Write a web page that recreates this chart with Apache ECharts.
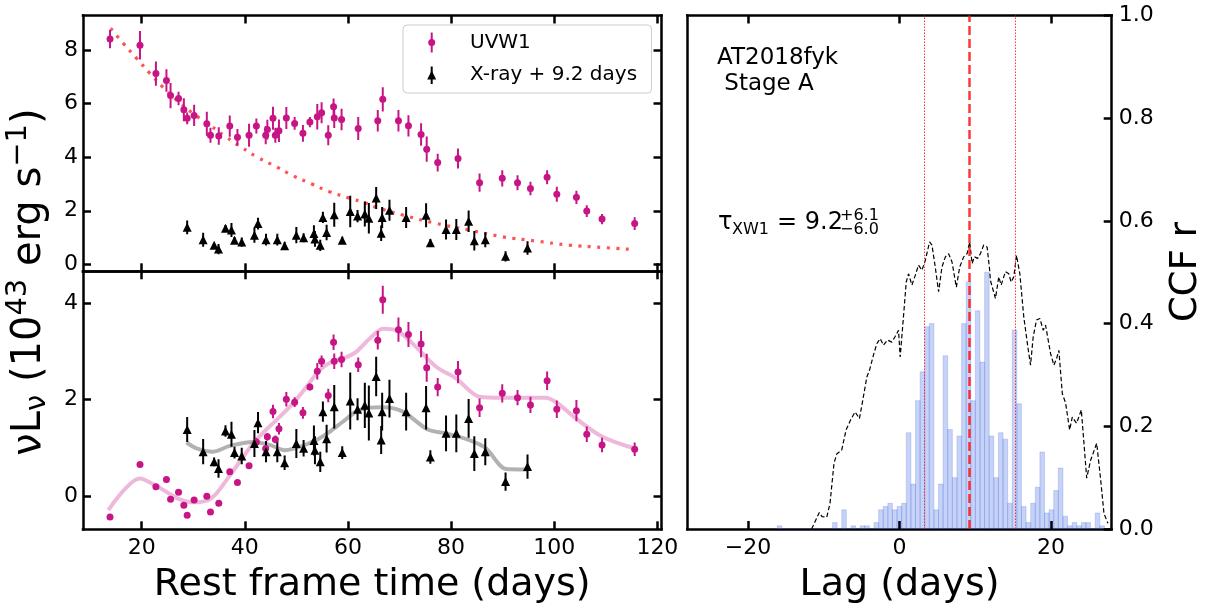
<!DOCTYPE html>
<html>
<head>
<meta charset="utf-8">
<script src="https://cdn.jsdelivr.net/npm/echarts@6/dist/echarts.min.js"></script>
<style>
  html, body { margin: 0; padding: 0; background: #fff; }
  #chart { width: 1211px; height: 614px; }
</style>
</head>
<body>
<div id="chart"></div>
<script>
// ---- UVW1 light curve (rest-frame days, 1e43 erg/s) ----
const uvDays = [13.86, 19.67, 22.76, 24.8, 25.6, 27.15, 28.18, 28.82, 30.17, 32.63,
  33.34, 34.95, 37.08, 38.57, 40.82, 42.24, 44.05, 44.37, 45.46, 45.92,
  46.62, 48.05, 49.66, 51.27, 52.62, 54.05, 54.89, 56.18, 57.21, 57.34,
  58.76, 61.99, 65.78, 66.75, 69.79, 71.73, 74.18, 75.27, 77.4, 81.34,
  85.52, 89.92, 92.88, 95.39, 98.62, 100.5, 104.3, 106.31, 109.27, 115.6];
const uvLum = [8.41, 8.18, 7.12, 6.86, 6.3, 6.19, 5.77, 5.45, 5.56, 5.25,
  4.82, 4.79, 5.16, 4.74, 4.82, 5.16, 4.82, 5.03, 5.45, 4.82,
  4.99, 5.46, 5.26, 4.89, 5.31, 5.51, 5.66, 4.82, 5.88, 5.46,
  5.41, 5.07, 5.36, 6.16, 5.36, 5.17, 4.85, 4.3, 3.8, 3.95,
  3.05, 3.21, 3.05, 2.83, 3.25, 2.62, 2.5, 1.99, 1.69, 1.52];
const uvErr = [0.34, 0.53, 0.45, 0.42, 0.47, 0.25, 0.43, 0.22, 0.4, 0.45,
  0.28, 0.33, 0.4, 0.31, 0.43, 0.28, 0.34, 0.37, 0.43, 0.28,
  0.42, 0.41, 0.24, 0.31, 0.19, 0.48, 0.39, 0.37, 0.31, 0.37,
  0.4, 0.43, 0.4, 0.45, 0.4, 0.4, 0.42, 0.47, 0.33, 0.37,
  0.34, 0.3, 0.28, 0.25, 0.26, 0.28, 0.25, 0.22, 0.19, 0.24];
// UVW1 after removing the decaying component (lower panel)
const uvResid = [-0.435, 0.656, 0.193, 0.345, -0.069, 0.076, -0.193, -0.4, -0.083, -0.007,
  -0.331, -0.152, 0.503, 0.283, 0.628, 1.118, 0.987, 1.228, 1.753, 1.173,
  1.394, 2.008, 1.946, 1.725, 2.263, 2.588, 2.795, 2.085, 3.188, 2.795,
  2.83, 2.72, 3.23, 4.07, 3.45, 3.35, 3.15, 2.66, 2.26, 2.57,
  1.83, 2.13, 2.04, 1.89, 2.39, 1.8, 1.77, 1.28, 1.06, 0.97];
const uvResidErr = [0.04, 0.04, 0.04, 0.04, 0.04, 0.04, 0.04, 0.04, 0.04, 0.04,
  0.04, 0.04, 0.04, 0.04, 0.04, 0.08, 0.08, 0.08, 0.14, 0.08,
  0.12, 0.15, 0.1, 0.12, 0.07, 0.17, 0.12, 0.14, 0.16, 0.16,
  0.16, 0.15, 0.19, 0.29, 0.25, 0.26, 0.27, 0.29, 0.19, 0.23,
  0.19, 0.19, 0.16, 0.17, 0.19, 0.18, 0.22, 0.16, 0.15, 0.14];

// ---- X-ray light curve, shifted by +9.2 days ----
const xDays = [28.82, 31.92, 34.05, 34.9, 36.25, 37.41, 38.0, 39.4, 41.86, 42.56,
  44.11, 46.3, 47.72, 49.99, 51.4, 53.4, 53.6, 54.63, 55.14, 55.86,
  57.34, 58.89, 60.44, 61.86, 63.27, 64.05, 65.47, 66.44, 66.63, 68.05,
  71.28, 75.15, 75.98, 79.02, 81.01, 83.4, 84.5, 86.63, 90.56, 94.82];
const xLum = [1.38, 0.92, 0.71, 0.57, 1.35, 1.28, 0.9, 0.83, 1.09, 1.52,
  0.92, 0.92, 0.69, 1.09, 0.99, 1.15, 0.95, 0.71, 1.75, 1.19,
  1.85, 0.9, 1.97, 1.8, 1.88, 1.72, 2.48, 1.16, 1.75, 2.02,
  1.75, 1.83, 0.81, 1.3, 1.3, 1.61, 0.88, 0.92, 0.3, 0.61];
const xErr = [0.26, 0.26, 0.09, 0.19, 0.12, 0.26, 0.12, 0.17, 0.28, 0.22,
  0.22, 0.22, 0.15, 0.3, 0.17, 0.31, 0.29, 0.21, 0.21, 0.29,
  0.45, 0.13, 0.59, 0.23, 0.47, 0.57, 0.41, 0.29, 0.39, 0.39,
  0.39, 0.45, 0.14, 0.37, 0.39, 0.4, 0.36, 0.28, 0.19, 0.25];

// ---- decaying component fitted to the UVW1 curve ----
const modelDays = [13.99, 16.43, 19.02, 21.6, 24.17, 26.77, 29.98, 33.21, 36.11, 39.35,
  42.56, 46.12, 49.33, 52.89, 56.43, 59.98, 63.54, 65.14, 70.62, 77.09,
  83.53, 89.98, 96.44, 102.89, 109.33, 115.6];
const modelLum = [8.81, 8.25, 7.69, 7.13, 6.6, 6.13, 5.63, 5.2, 4.79, 4.37,
  3.99, 3.64, 3.31, 3.01, 2.71, 2.49, 2.28, 2.15, 1.84, 1.53,
  1.28, 1.03, 0.87, 0.72, 0.63, 0.55];

// ---- smoothed curves (lower panel) ----
const uvSmoothDays = [13.53, 19.67, 22.9, 25.47, 27.4, 29.98, 32.88, 34.5, 36.44, 39.01,
  41.59, 44.18, 46.76, 49.33, 51.93, 54.5, 57.08, 59.0, 61.6, 64.18,
  66.76, 69.35, 72.56, 77.09, 80.96, 85.46, 89.97, 98.37, 100.31, 104.2,
  109.33, 115.46];
const uvSmoothLum = [-0.29, 0.366, 0.207, 0.041, -0.069, -0.131, -0.083, 0.055, 0.33, 0.71,
  1.09, 1.38, 1.64, 1.92, 2.26, 2.61, 2.8, 2.85, 2.99, 3.26,
  3.47, 3.44, 3.16, 2.68, 2.44, 2.06, 2.04, 2.04, 1.95, 1.61,
  1.23, 0.99];
const xSmoothDays = [28.7, 30.64, 33.86, 37.08, 41.59, 44.82, 47.72, 50.63, 53.86, 56.43,
  59.0, 61.6, 64.18, 66.76, 70.63, 75.47, 79.02, 83.53, 86.76, 90.63, 94.82];
const xSmoothLum = [1.11, 0.99, 0.92, 1.04, 1.12, 1.06, 0.95, 1.02, 1.16, 1.33,
  1.54, 1.75, 1.83, 1.84, 1.75, 1.38, 1.3, 1.16, 0.99, 0.56, 0.55];

// ---- interpolated cross-correlation function ----
const ccfLag = [-11.6, -11.15, -10.58, -10.22, -9.6, -9.17, -8.64, -8.28, -7.62, -7.05,
  -6.43, -5.86, -5.29, -4.84, -4.31, -3.96, -3.43, -2.99, -2.55, -2.11,
  -1.59, -1.01, -0.57, -0.13, 0.09, 0.45, 0.89, 1.19, 1.64, 2.08,
  2.51, 2.96, 3.4, 3.97, 4.28, 4.72, 5.16, 5.6, 6.05, 6.48,
  6.93, 7.5, 7.94, 8.47, 8.91, 9.26, 9.58, 9.88, 10.32, 10.67,
  11.11, 11.56, 11.9, 12.0, 12.66, 13.1, 13.41, 13.98, 14.42, 14.73,
  15.08, 15.44, 15.88, 16.4, 16.93, 17.29, 17.64, 18.08, 18.52, 18.97,
  19.27, 19.93, 20.37, 20.73, 21.03, 21.48, 21.92, 22.45, 22.8, 23.37,
  23.99, 24.34, 24.7, 25.22, 26.02, 26.55, 26.98, 27.51];
const ccfR = [0.0, 0.014, 0.032, 0.024, 0.023, 0.05, 0.128, 0.146, 0.154, 0.193,
  0.213, 0.228, 0.215, 0.251, 0.296, 0.309, 0.339, 0.361, 0.371, 0.358,
  0.368, 0.364, 0.375, 0.387, 0.335, 0.4, 0.481, 0.497, 0.475, 0.494,
  0.514, 0.504, 0.523, 0.559, 0.553, 0.51, 0.462, 0.51, 0.53, 0.536,
  0.52, 0.471, 0.51, 0.53, 0.536, 0.559, 0.517, 0.53, 0.527, 0.536,
  0.553, 0.549, 0.504, 0.484, 0.449, 0.491, 0.475, 0.501, 0.497, 0.481,
  0.491, 0.533, 0.497, 0.413, 0.355, 0.319, 0.374, 0.407, 0.41, 0.387,
  0.397, 0.342, 0.319, 0.332, 0.348, 0.264, 0.245, 0.193, 0.218, 0.206,
  0.232, 0.167, 0.099, 0.134, 0.167, 0.095, 0.03, 0.011];

// ---- centroid lag distribution (histogram) ----
const lagBinStart = -16.13;
const lagBinWidth = 0.608;
const lagCounts = [1, 0, 0, 0, 0, 0, 0, 0, 0, 0, 0, 0, 2, 0, 6, 0, 1, 0, 1, 1,
  0, 2, 6, 7, 8, 6, 7, 8, 30, 14, 40, 49, 63, 64, 6, 14, 54, 31, 16, 29,
  64, 77, 40, 68, 52, 80, 29, 16, 30, 28, 8, 62, 39, 7, 2, 8, 13, 24, 5, 6,
  12, 19, 4, 1, 2, 1, 2, 2, 0, 5, 1];

// lag estimate and its bounds
const lagBest = 9.2, lagPlus = 6.1, lagMinus = 6.0;

// tick labels
const timeTicks = [20, 40, 60, 80, 100, 120];
const topTicks = [0, 2, 4, 6, 8];
const bottomTicks = [0, 2, 4];
const lagTicks = [-20, 0, 20];
const ccfTicks = [0, 0.2, 0.4, 0.6, 0.8, 1.0];

// ------------------------------------------------------------
const FONT = 'DejaVu Sans';
const MAGENTA = '#c71585';
const zip = (a, b, c) => a.map((v, i) => c ? [v, b[i], c[i]] : [v, b[i]]);

const chart = echarts.init(document.getElementById('chart'), null, { renderer: 'canvas' });

// axis ranges
const T_RANGE = [8.62, 120.8];
const TOP_RANGE = [-0.26, 9.29];
const BOT_RANGE = [-0.69, 4.66];
const LAG_RANGE = [-28, 28];
const CCF_RANGE = [0, 1];

const G_TOP = { left: 83, top: 15.5, width: 578.5, height: 255.8 };
const G_BOT = { left: 83, top: 271.3, width: 578.5, height: 258 };
const G_CCF = { left: 687.3, top: 15.5, width: 424.4, height: 513.5 };

const TICK_PX = 8;

// each axis draws one side of the panel frame
function frameAxis(extra) {
  return Object.assign({
    type: 'value', splitLine: { show: false },
    axisLine: { show: true, onZero: false, lineStyle: { color: '#000', width: 2.5, cap: 'square' } },
    axisTick: { show: false },
    axisLabel: { show: false }
  }, extra);
}

const labelStyle = { color: '#000', fontFamily: FONT, fontSize: 22 };

// inward major ticks as short markLine segments in data units of the panel
function tickSegments(g, xr, yr, xt, yt, sides) {
  const dx = TICK_PX * (xr[1] - xr[0]) / g.width;
  const dy = TICK_PX * (yr[1] - yr[0]) / g.height;
  const ex = (xr[1] - xr[0]) * 1e-6, ey = (yr[1] - yr[0]) * 1e-6;
  const style = { color: '#000', width: 2.5, type: 'solid', opacity: 1 };
  const segs = [];
  const add = (a, b) => segs.push([{ coord: a, lineStyle: style }, { coord: b }]);
  xt.forEach(v => {
    if (sides.bottom) add([v, yr[0] + ey], [v, yr[0] + dy]);
    if (sides.top) add([v, yr[1] - ey], [v, yr[1] - dy]);
  });
  yt.forEach(v => {
    if (sides.left) add([xr[0] + ex, v], [xr[0] + dx, v]);
    if (sides.right) add([xr[1] - ex, v], [xr[1] - dx, v]);
  });
  return segs;
}

function markLineOf(data) {
  return { silent: true, symbol: 'none', animation: false, label: { show: false },
    emphasis: { disabled: true }, data: data };
}

function errBars(axisX, axisY, data, color, width) {
  return {
    type: 'custom', xAxisIndex: axisX, yAxisIndex: axisY, data: data, clip: true,
    encode: { x: 0, y: 1 }, silent: true, z: 3,
    renderItem: function (params, api) {
      const x = api.value(0), y = api.value(1), e = api.value(2);
      const p1 = api.coord([x, y - e]);
      const p2 = api.coord([x, y + e]);
      return { type: 'line', shape: { x1: p1[0], y1: p1[1], x2: p2[0], y2: p2[1] },
        style: { stroke: color, lineWidth: width } };
    }
  };
}

const histData = lagCounts.map((c, i) => [lagBinStart + i * lagBinWidth, lagBinStart + (i + 1) * lagBinWidth, c]);

const lagLines = [
  { xAxis: lagBest, lineStyle: { color: 'rgba(255,20,20,0.85)', width: 2.5, type: [9, 4] } },
  { xAxis: lagBest - lagMinus, lineStyle: { color: 'rgba(255,20,20,0.85)', width: 1, type: [1.5, 1.5] } },
  { xAxis: lagBest + lagPlus, lineStyle: { color: 'rgba(255,20,20,0.85)', width: 1, type: [1.5, 1.5] } }
];

const option = {
  animation: false,
  backgroundColor: '#fff',
  grid: [Object.assign({ show: false }, G_TOP), Object.assign({ show: false }, G_BOT), Object.assign({ show: false }, G_CCF)],
  xAxis: [
    frameAxis({ gridIndex: 0, position: 'bottom', min: T_RANGE[0], max: T_RANGE[1] }),
    frameAxis({ gridIndex: 0, position: 'top', min: T_RANGE[0], max: T_RANGE[1] }),
    frameAxis({ gridIndex: 1, position: 'bottom', min: T_RANGE[0], max: T_RANGE[1],
      axisLabel: Object.assign({ show: true, margin: 8, customValues: timeTicks }, labelStyle) }),
    frameAxis({ gridIndex: 1, position: 'top', min: T_RANGE[0], max: T_RANGE[1] }),
    frameAxis({ gridIndex: 2, position: 'bottom', min: LAG_RANGE[0], max: LAG_RANGE[1],
      axisLabel: Object.assign({ show: true, margin: 8, customValues: lagTicks,
        formatter: v => (v < 0 ? '\u2212' + Math.abs(v) : String(v)) }, labelStyle) }),
    frameAxis({ gridIndex: 2, position: 'top', min: LAG_RANGE[0], max: LAG_RANGE[1] })
  ],
  yAxis: [
    frameAxis({ gridIndex: 0, position: 'left', min: TOP_RANGE[0], max: TOP_RANGE[1],
      axisLabel: Object.assign({ show: true, margin: 5, customValues: topTicks }, labelStyle) }),
    frameAxis({ gridIndex: 0, position: 'right', min: TOP_RANGE[0], max: TOP_RANGE[1] }),
    frameAxis({ gridIndex: 1, position: 'left', min: BOT_RANGE[0], max: BOT_RANGE[1],
      axisLabel: Object.assign({ show: true, margin: 5, customValues: bottomTicks }, labelStyle) }),
    frameAxis({ gridIndex: 1, position: 'right', min: BOT_RANGE[0], max: BOT_RANGE[1] }),
    frameAxis({ gridIndex: 2, position: 'right', min: CCF_RANGE[0], max: CCF_RANGE[1],
      axisLabel: Object.assign({ show: true, margin: 7, customValues: ccfTicks, formatter: v => v.toFixed(1) }, labelStyle) }),
    frameAxis({ gridIndex: 2, position: 'left', min: CCF_RANGE[0], max: CCF_RANGE[1] }),
    { type: 'value', gridIndex: 2, min: 0, max: 160, show: false, axisLine: { onZero: false } }
  ],
  series: [
    // upper panel
    { type: 'line', xAxisIndex: 0, yAxisIndex: 0, data: zip(modelDays, modelLum), smooth: true,
      showSymbol: false, z: 2, silent: true,
      lineStyle: { color: 'rgba(255,40,40,0.8)', width: 3.2, type: [3, 6.5] },
      markLine: markLineOf(tickSegments(G_TOP, T_RANGE, TOP_RANGE, timeTicks, topTicks,
        { bottom: true, top: true, left: true, right: true })) },
    errBars(0, 0, zip(uvDays, uvLum, uvErr), MAGENTA, 2),
    { type: 'scatter', name: 'UVW1', xAxisIndex: 0, yAxisIndex: 0, data: zip(uvDays, uvLum),
      symbol: 'circle', symbolSize: 7, itemStyle: { color: MAGENTA, opacity: 1 }, z: 4 },
    errBars(0, 0, zip(xDays, xLum, xErr), '#000', 2),
    { type: 'scatter', name: 'X-ray + 9.2 days', xAxisIndex: 0, yAxisIndex: 0, data: zip(xDays, xLum),
      symbol: 'triangle', symbolSize: [9, 9], itemStyle: { color: '#000', opacity: 1 }, z: 4 },

    // lower panel
    { type: 'line', xAxisIndex: 2, yAxisIndex: 2, data: zip(uvSmoothDays, uvSmoothLum), smooth: 0.3,
      showSymbol: false, z: 1, silent: true, lineStyle: { color: 'rgba(199,21,133,0.3)', width: 4 },
      markLine: markLineOf(tickSegments(G_BOT, T_RANGE, BOT_RANGE, timeTicks, bottomTicks,
        { bottom: true, top: true, left: true, right: true })) },
    { type: 'line', xAxisIndex: 2, yAxisIndex: 2, data: zip(xSmoothDays, xSmoothLum), smooth: 0.3,
      showSymbol: false, z: 1, silent: true, lineStyle: { color: 'rgba(0,0,0,0.3)', width: 4 } },
    errBars(2, 2, zip(uvDays, uvResid, uvResidErr), MAGENTA, 2),
    { type: 'scatter', xAxisIndex: 2, yAxisIndex: 2, data: zip(uvDays, uvResid),
      symbol: 'circle', symbolSize: 7, itemStyle: { color: MAGENTA, opacity: 1 }, z: 4 },
    errBars(2, 2, zip(xDays, xLum, xErr), '#000', 2),
    { type: 'scatter', xAxisIndex: 2, yAxisIndex: 2, data: zip(xDays, xLum),
      symbol: 'triangle', symbolSize: [9, 9], itemStyle: { color: '#000', opacity: 1 }, z: 4 },

    // right panel: lag histogram
    { type: 'custom', xAxisIndex: 4, yAxisIndex: 6, data: histData, clip: true, silent: true, z: 1,
      encode: { x: [0, 1], y: 2 },
      renderItem: function (params, api) {
        const a = api.coord([api.value(0), api.value(2)]);
        const b = api.coord([api.value(1), 0]);
        return { type: 'rect', shape: { x: a[0], y: a[1], width: b[0] - a[0], height: b[1] - a[1] },
          style: { fill: 'rgba(65,105,225,0.3)', stroke: 'rgba(65,105,225,0.22)', lineWidth: 1 } };
      } },
    // CCF curve, lag markers and panel ticks
    { type: 'line', xAxisIndex: 4, yAxisIndex: 4, data: zip(ccfLag, ccfR), showSymbol: false, z: 3,
      silent: true, lineStyle: { color: '#000', width: 1.2, type: [4.5, 2.5] },
      markLine: markLineOf(lagLines.concat(tickSegments(G_CCF, LAG_RANGE, CCF_RANGE, lagTicks, ccfTicks,
        { bottom: true, top: true, left: false, right: true }))) }
  ],
  graphic: [
    // legend of the upper panel
    { type: 'rect', z: 50, shape: { x: 403, y: 25, width: 248.5, height: 68, r: 4 },
      style: { fill: 'rgba(255,255,255,0.8)', stroke: '#cccccc', lineWidth: 1 } },
    { type: 'line', z: 51, shape: { x1: 431.7, y1: 32.5, x2: 431.7, y2: 52.5 }, style: { stroke: MAGENTA, lineWidth: 2 } },
    { type: 'circle', z: 52, shape: { cx: 431.7, cy: 42.5, r: 3.5 }, style: { fill: MAGENTA } },
    { type: 'text', z: 52, x: 470, y: 42.5, style: { text: 'UVW1', fontFamily: FONT, fontSize: 20, fill: '#000', verticalAlign: 'middle' } },
    { type: 'line', z: 51, shape: { x1: 431.7, y1: 66.5, x2: 431.7, y2: 84 }, style: { stroke: '#000', lineWidth: 2 } },
    { type: 'polygon', z: 52, shape: { points: [[431.7, 70.5], [427.2, 79.5], [436.2, 79.5]] }, style: { fill: '#000' } },
    { type: 'text', z: 52, x: 470, y: 75, style: { text: 'X-ray + 9.2 days', fontFamily: FONT, fontSize: 20, fill: '#000', verticalAlign: 'middle' } },

    // right-panel annotations
    { type: 'text', z: 50, x: 717, y: 58.3, style: { text: 'AT2018fyk', fontFamily: FONT, fontSize: 23, fill: '#000', verticalAlign: 'middle' } },
    { type: 'text', z: 50, x: 717, y: 84.3, style: { text: ' Stage A', fontFamily: FONT, fontSize: 23, fill: '#000', verticalAlign: 'middle' } },
    { type: 'text', z: 50, x: 718, y: 223, style: { text: '\u03c4', fontFamily: FONT, fontSize: 24, fill: '#000', verticalAlign: 'middle' } },
    { type: 'text', z: 50, x: 732, y: 229.5, style: { text: 'XW1', fontFamily: FONT, fontSize: 16, fill: '#000', verticalAlign: 'middle' } },
    { type: 'text', z: 50, x: 777, y: 223, style: { text: '= 9.2', fontFamily: FONT, fontSize: 24, fill: '#000', verticalAlign: 'middle' } },
    { type: 'text', z: 50, x: 840, y: 216, style: { text: '+6.1', fontFamily: FONT, fontSize: 16, fill: '#000', verticalAlign: 'middle' } },
    { type: 'text', z: 50, x: 840, y: 230, style: { text: '\u22126.0', fontFamily: FONT, fontSize: 16, fill: '#000', verticalAlign: 'middle' } },

    // axis titles
    { type: 'text', z: 50, x: 372.25, y: 585, style: { text: 'Rest frame time (days)', fontFamily: FONT, fontSize: 38, fill: '#000', align: 'center', verticalAlign: 'middle' } },
    { type: 'text', z: 50, x: 899.5, y: 585, style: { text: 'Lag (days)', fontFamily: FONT, fontSize: 38, fill: '#000', align: 'center', verticalAlign: 'middle' } },
    { type: 'text', z: 50, x: 1186, y: 272, rotation: Math.PI / 2,
      style: { text: 'CCF r', fontFamily: FONT, fontSize: 37, fill: '#000', align: 'center', verticalAlign: 'middle' } },
    { type: 'text', z: 50, x: 30, y: 282, rotation: Math.PI / 2,
      style: {
        text: '{n|\u03bdL}{s|\u03bd}{n| (10}{p|43}{n| erg s}{p|\u22121}{n|)}',
        fontFamily: FONT, fill: '#000', align: 'center', verticalAlign: 'middle',
        rich: {
          n: { fontFamily: FONT, fontSize: 40, fill: '#000' },
          s: { fontFamily: FONT, fontSize: 29, fill: '#000', padding: [14, 0, 0, 0] },
          p: { fontFamily: FONT, fontSize: 29, fill: '#000', padding: [0, 0, 24, 0] }
        }
      } }
  ]
};

chart.setOption(option);
</script>
</body>
</html>
